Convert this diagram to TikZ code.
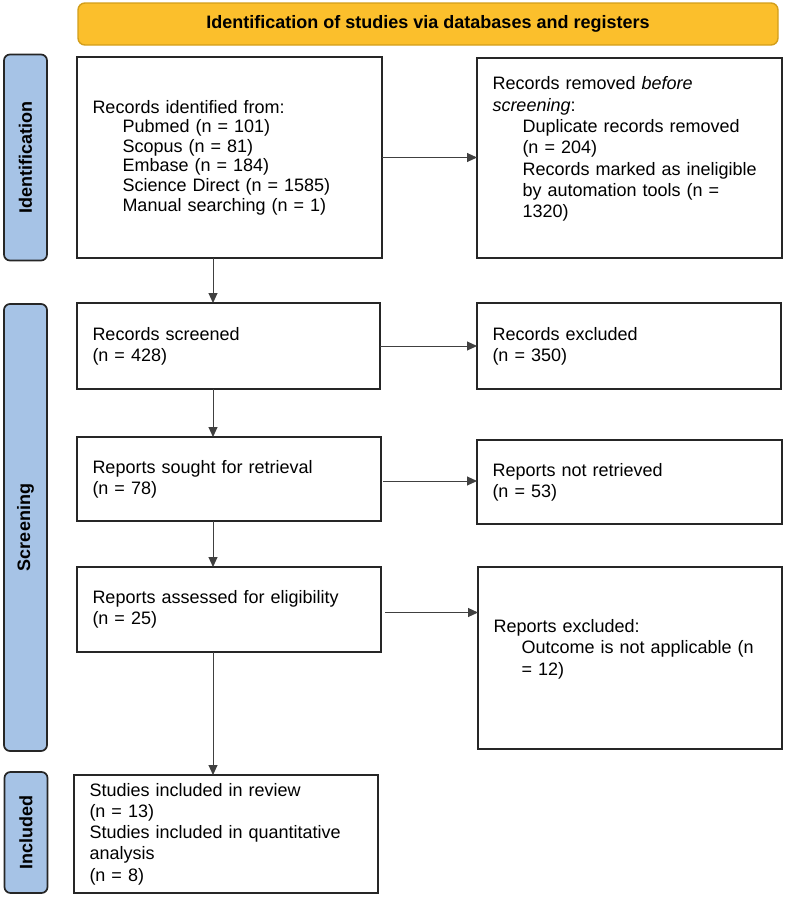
\documentclass[tikz,border=0pt]{standalone}
\usepackage{fontspec}
\setmainfont{Liberation Sans}
\usetikzlibrary{arrows.meta,calc}
\definecolor{barblue}{HTML}{A6C3E6}
\definecolor{titlegold}{HTML}{FBBF2C}
\definecolor{titleedge}{HTML}{D39E1A}
\newcommand\indx{\hspace*{30pt}}
\begin{document}
\begin{tikzpicture}[x=1pt,y=-1pt,
  box/.style={draw=black!85,line width=1.7pt,fill=white,inner xsep=15.5pt,inner ysep=0pt,outer sep=0pt,
    align=left,anchor=north west,font=\fontsize{18}{21.3}\selectfont},
  bar/.style={draw=black!85,line width=1.7pt,fill=barblue,rounded corners=6pt,outer sep=0pt,inner sep=0pt,
    rotate=90,font=\fontsize{18}{21}\selectfont\bfseries},
  titlebox/.style={draw=titleedge,line width=1.4pt,fill=titlegold,rounded corners=7pt,outer sep=0pt,
    font=\fontsize{18}{21}\selectfont\bfseries},
  arr/.style={draw=black!75,line width=1pt,-{Triangle[length=10pt,width=9pt]}}
]
\useasboundingbox (0,0) rectangle (787,897);

% title
\node[titlebox,minimum width=700pt,minimum height=42pt] (title) at (428,24) {Identification of studies via databases and registers};

% side bars
\node[bar,minimum width=206pt,minimum height=43pt] (idbar) at (25.5,157.5) {Identification};
\node[bar,minimum width=447pt,minimum height=43pt] (scbar) at (25.5,527.5) {Screening};
\node[bar,minimum width=121pt,minimum height=43pt] (inbar) at (26,832.5) {Included};

% boxes
\node[box,text width=274pt,minimum height=201pt,font=\fontsize{18}{19.6}\selectfont] (b1) at (77,57)
  {Records identified from:\\
   \indx Pubmed (n = 101)\\
   \indx Scopus (n = 81)\\
   \indx Embase (n = 184)\\
   \indx Science Direct (n = 1585)\\
   \indx Manual searching (n = 1)};

\node[box,text width=274pt,minimum height=200pt] (b2) at (477,58)
  {Records removed \textit{before}\\
   \textit{screening}:\\
   \indx Duplicate records removed\\
   \indx (n = 204)\\
   \indx Records marked as ineligible\\
   \indx by automation tools (n =\\
   \indx 1320)\\ \mbox{}};

\node[box,text width=272pt,minimum height=86pt] (b3) at (77,303)
  {Records screened\\(n = 428)};
\node[box,text width=273pt,minimum height=86pt] (b4) at (477,303)
  {Records excluded\\(n = 350)};

\node[box,text width=273pt,minimum height=84pt] (b5) at (77,437)
  {Reports sought for retrieval\\(n = 78)};
\node[box,text width=274pt,minimum height=84pt] (b6) at (477,440)
  {Reports not retrieved\\(n = 53)};

\node[box,text width=273pt,minimum height=85pt] (b7) at (77,567)
  {Reports assessed for eligibility\\(n = 25)};
\node[box,text width=273pt,minimum height=182pt] (b8) at (478,567)
  {Reports excluded:\\
   \hspace*{28pt}Outcome is not applicable (n\\
   \hspace*{28pt}= 12)\\ \mbox{}};

\node[box,text width=273pt,minimum height=118pt] (b9) at (74,775)
  {Studies included in review\\
   (n = 13)\\
   Studies included in quantitative\\
   analysis\\
   (n = 8)};

% connectors
\coordinate (vx) at (213,0);
\draw[arr] (b1.east) -- (b1.east -| b2.west);
\draw[arr] (b3.east) -- (b3.east -| b4.west);
\draw[arr] ($(b5.east)+(2,2)$) -- ($(b5.east -| b6.west)+(0,2)$);
\draw[arr] ($(b7.east)+(4,3)$) -- ($(b7.east -| b8.west)+(0,3)$);
\draw[arr] (b1.south -| vx) -- (b3.north -| vx);
\draw[arr] (b3.south -| vx) -- (b5.north -| vx);
\draw[arr] (b5.south -| vx) -- (b7.north -| vx);
\draw[arr] (b7.south -| vx) -- (b9.north -| vx);
\end{tikzpicture}
\end{document}
